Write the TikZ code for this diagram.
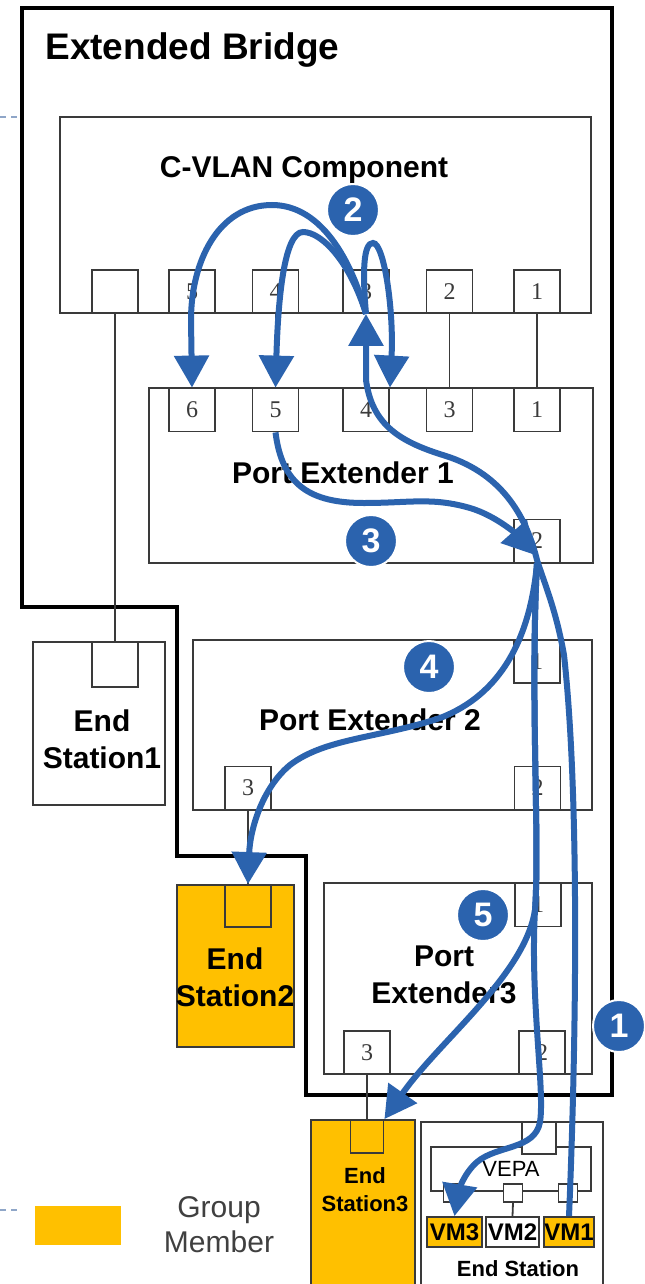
\documentclass[tikz,border=0pt]{standalone}
\usepackage{fontspec}
\setmainfont{Liberation Sans}
\newfontfamily\portfont{Liberation Serif}
\usetikzlibrary{arrows.meta}
\definecolor{flowblue}{HTML}{2B63AE}
\definecolor{memberorange}{HTML}{FFC000}
\definecolor{boxgray}{HTML}{3A3A3A}
\definecolor{sideblue}{HTML}{8FA6C8}

\begin{document}
\begin{tikzpicture}[x=0.5pt,y=-0.5pt, flow line/.style={draw=flowblue, line width=3pt, -{Triangle[length=16pt,width=17pt]}}]
      \tikzstyle{box node}=[draw=boxgray, line width=0.9pt, fill=white, inner sep=0]
      \tikzstyle{port node}=[box node, minimum width=23pt, minimum height=21.5pt, font=\portfont\fontsize{12}{12}\selectfont, text=boxgray]
      \tikzstyle{small port}=[box node, minimum width=9.5pt, minimum height=9pt]
      \tikzstyle{vm node}=[box node, minimum width=26.5pt, minimum height=15pt, font=\fontsize{12}{12}\selectfont\bfseries]
      \tikzstyle{label node}=[align=center, inner sep=0, font=\fontsize{15}{18.5}\selectfont\bfseries]
      \tikzstyle{small label}=[align=center, inner sep=0, font=\fontsize{11}{14}\selectfont\bfseries]
      \tikzstyle{num node}=[circle, fill=flowblue, draw=white, line width=1pt, minimum size=26pt, inner sep=0, text=white, font=\fontsize{17}{17}\selectfont\bfseries]
      \tikzstyle{bridge line}=[draw=black, line width=2pt]
      \tikzstyle{link}=[draw=boxgray, line width=0.9pt]

      \useasboundingbox (0,0) rectangle (644,1284);

      % slide marks on the left
      \draw[sideblue, line width=1pt, dash pattern=on 3pt off 2.5pt] (0,117) -- (20,117);
      \draw[sideblue, line width=1pt, dash pattern=on 3pt off 2.5pt] (0,1210) -- (20,1210);

      % extended bridge outline
      \draw[bridge line] (22,8) -- (612,8) -- (612,1095) -- (306,1095) -- (306,856)
          -- (177,856) -- (177,607) -- (22,607) -- cycle;
      \node[anchor=west, inner sep=0, font=\fontsize{18.5}{20}\selectfont\bfseries] (title) at (45,50) {Extended Bridge};

      % C-VLAN component
      \node[box node, minimum width=265.5pt, minimum height=98pt] (cv) at (325.5,215) {};
      \node[label node] (cvlbl) at (304,170) {C-VLAN Component};
      \node[port node] (cvp0) at (115,291.5) {};
      \node[port node] (cvp5) at (192,291.5) {5};
      \node[port node] (cvp4) at (275.5,291.5) {4};
      \node[port node] (cvp3) at (366,291.5) {3};
      \node[port node] (cvp2) at (449.5,291.5) {2};
      \node[port node] (cvp1) at (537,291.5) {1};

      % port extender 1
      \node[box node, minimum width=222pt, minimum height=87.5pt] (pe1) at (371,475.5) {};
      \node[label node] (pe1lbl) at (343,473) {Port Extender 1};
      \node[port node] (pe1p6) at (192,410) {6};
      \node[port node] (pe1p5) at (275.5,410) {5};
      \node[port node] (pe1p4) at (366,410) {4};
      \node[port node] (pe1p3) at (449.5,410) {3};
      \node[port node] (pe1p1) at (537,410) {1};
      \node[port node] (pe1p2) at (537,541) {2};

      % end station 1
      \node[box node, minimum width=66pt, minimum height=81.5pt] (es1) at (99,723.5) {};
      \node[port node, minimum height=22.5pt] (es1p) at (115,664.5) {};
      \node[label node] (es1lbl) at (102,739) {End\\Station1};

      % port extender 2
      \node[box node, minimum width=199.5pt, minimum height=85pt] (pe2) at (392.5,725) {};
      \node[label node] (pe2lbl) at (370,720) {Port Extender 2};
      \node[port node] (pe2p1) at (537,661.5) {1};
      \node[port node] (pe2p3) at (248,788) {3};
      \node[port node] (pe2p2) at (537.5,788) {2};

      % end station 2
      \node[box node, fill=memberorange, minimum width=58.5pt, minimum height=81pt] (es2) at (235.5,966) {};
      \node[port node, fill=memberorange, minimum height=21pt] (es2p) at (248,906) {};
      \node[label node] (es2lbl) at (235,977) {End\\Station2};

      % port extender 3
      \node[box node, minimum width=134pt, minimum height=95.5pt] (pe3) at (458,978.5) {};
      \node[label node] (pe3lbl) at (444,975) {Port\\Extender3};
      \node[port node] (pe3p1) at (538,905) {1};
      \node[port node] (pe3p3) at (367,1052.5) {3};
      \node[port node] (pe3p2) at (542,1052.5) {2};

      % end station 3
      \node[box node, fill=memberorange, minimum width=52pt, minimum height=85pt] (es3) at (363,1205) {};
      \node[port node, fill=memberorange, minimum width=16.5pt, minimum height=16.5pt] (es3p) at (367,1136.5) {};
      \node[small label] (es3lbl) at (365,1190) {End\\Station3};

      % end station with VEPA
      \node[box node, minimum width=91pt, minimum height=84pt] (es) at (512,1206) {};
      \node[box node, minimum width=80pt, minimum height=22pt, font=\fontsize{11}{11}\selectfont] (vepa) at (511,1169) {VEPA};
      \node[box node, minimum width=17pt, minimum height=16pt] (esp) at (539,1138) {};
      \node[small port] (vp3) at (453,1193) {};
      \node[small port] (vp2) at (513,1193) {};
      \node[small port] (vp1) at (568,1193) {};
      \node[vm node, fill=memberorange, minimum width=27.5pt] (vm3) at (454.5,1232) {VM3};
      \node[vm node] (vm2) at (512.5,1232) {VM2};
      \node[vm node, fill=memberorange, minimum width=25pt] (vm1) at (569,1232) {VM1};
      \node[small label] (eslbl) at (518,1269) {End Station};

      % legend
      \node[fill=memberorange, minimum width=43pt, minimum height=19.5pt, inner sep=0] (legend) at (78,1225.5) {};
      \node[align=center, inner sep=0, text=black!75, font=\fontsize{15}{17.5}\selectfont] (legendlbl) at (219,1225) {Group\\Member};

      % links
      \draw[link] (cvp0.south) -- (es1p.north);
      \draw[link] (cvp4.south) -- (pe1p5.north);
      \draw[link] (cvp2.south) -- (pe1p3.north);
      \draw[link] (cvp1.south) -- (pe1p1.north);
      \draw[link] (pe1p2.south) -- (pe2p1.north);
      \draw[link] (pe2p3.south) -- (es2p.north);
      \draw[link] (pe3p3.south) -- (es3p.north);
      \draw[link] (vp2.south) -- (vm2.north);

      % flows
      \draw[flow line] (vm1.north) .. controls (576,1050) and (580,800) .. (564,655)
          .. controls (556,610) and (545,585) .. (537,560)
          .. controls (527,520) and (505,475) .. (446,456)
          .. controls (400,442) and (372,425) .. (366,380) -- (cvp3.south);
      \draw[flow line] (cvp3.south) .. controls (352,262) and (322,205) .. (272,205)
          .. controls (218,205) and (191,262) .. (191,320) -- (pe1p6.north);
      \draw[flow line] (cvp3.south) .. controls (350,262) and (322,232) .. (303,232)
          .. controls (284,232) and (278,300) .. (pe1p5.north);
      \draw[flow line] (cvp3.south) .. controls (362,268) and (364,243) .. (373,243)
          .. controls (384,243) and (394,310) .. (pe1p4.north east);
      \draw[flow line] (pe1p5.south) .. controls (282,485) and (310,503) .. (364,503)
          .. controls (410,503) and (432,497) .. (470,508)
          .. controls (497,516) and (518,536) .. ([shift={(-2,14)}]pe1p2.center);
      \draw[flow line] (pe1p2.south) .. controls (530,640) and (500,695) .. (440,718)
          .. controls (380,738) and (325,738) .. (290,765)
          .. controls (262,788) and (250,830) .. (es2p.north);
      \draw[flow line] (pe1p2.south) .. controls (530,700) and (540,840) .. (535,910)
          .. controls (525,975) and (440,1040) .. (es3p.north east);
      \draw[flow line] (pe1p2.south) .. controls (530,700) and (540,840) .. (535,910)
          .. controls (530,1000) and (545,1090) .. (540,1122)
          .. controls (535,1150) and (497,1145) .. (477,1162)
          .. controls (462,1175) and (458,1195) .. (vm3.north);

      % step numbers
      \node[num node] (n1) at (619,1026) {1};
      \node[num node] (n2) at (353,210) {2};
      \node[num node] (n3) at (371,541) {3};
      \node[num node] (n4) at (429,667) {4};
      \node[num node] (n5) at (483,915) {5};
\end{tikzpicture}
\end{document}
